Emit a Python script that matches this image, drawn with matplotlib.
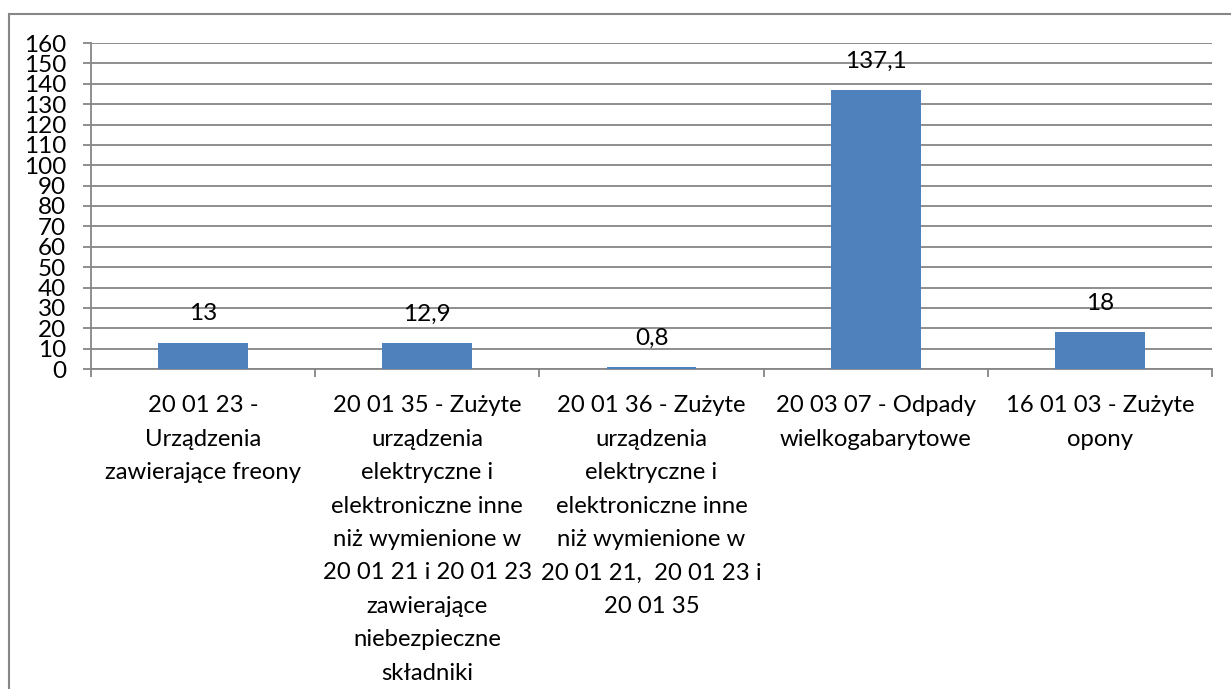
import matplotlib
matplotlib.use("Agg")
import matplotlib.pyplot as plt
from matplotlib.patches import Rectangle

categories = [
    "20 01 23 -\nUrządzenia\nzawierające freony",
    "20 01 35 - Zużyte\nurządzenia\nelektryczne i\nelektroniczne inne\nniż wymienione w\n20 01 21 i 20 01 23\nzawierające\nniebezpieczne\nskładniki",
    "20 01 36 - Zużyte\nurządzenia\nelektryczne i\nelektroniczne inne\nniż wymienione w\n20 01 21,  20 01 23 i\n20 01 35",
    "20 03 07 - Odpady\nwielkogabarytowe",
    "16 01 03 - Zużyte\nopony",
]
values = [13, 12.9, 0.8, 137.1, 18]
value_labels = ["13", "12,9", "0,8", "137,1", "18"]
yticks = list(range(0, 161, 10))

plt.rcParams['font.family'] = ['Lato', 'DejaVu Sans']
W, H = 1231, 689
fig = plt.figure(figsize=(W / 100, H / 100), dpi=100)

FS = 17.2

# outer chart border (only left and top visible in the crop)
fig.add_artist(Rectangle((9 / W, -0.1), 1.2, 1 - 14 / H + 0.1, transform=fig.transFigure,
                         fill=False, edgecolor='#868686', linewidth=1.5))

left, right, top, bottom = 91, 1212, 43, 369
ax = fig.add_axes([left / W, 1 - bottom / H, (right - left) / W, (bottom - top) / H])

grid_color = '#868686'
x = list(range(len(values)))
ax.bar(x, values, width=0.4, color='#4F81BD', zorder=3)
ax.set_xlim(-0.5, len(values) - 0.5)
ax.set_ylim(0, 160)
ax.set_yticks(yticks)
ax.set_yticklabels([str(t) for t in yticks], fontsize=17.5)
ax.yaxis.grid(True, color=grid_color, linewidth=1.3, zorder=0)
ax.set_axisbelow(True)

for s in ['top', 'right']:
    ax.spines[s].set_visible(False)
for s in ['left', 'bottom']:
    ax.spines[s].set_color(grid_color)
    ax.spines[s].set_linewidth(1.3)

ax.tick_params(axis='y', length=6, width=1.3, color=grid_color, pad=12)
ax.set_xticks([i - 0.5 for i in range(len(values) + 1)], minor=False)
ax.set_xticklabels([])
ax.tick_params(axis='x', which='major', length=6, width=1.3, color=grid_color)
ax.set_xticks(x, minor=True)
ax.set_xticklabels(categories, minor=True, fontsize=FS, linespacing=1.73)
ax.tick_params(axis='x', which='minor', length=0, pad=19)

for xi, v, lab in zip(x, values, value_labels):
    ax.annotate(lab, (xi, v), xytext=(0, 13), textcoords='offset points',
                ha='center', va='bottom', fontsize=17.5)

fig.savefig('out.png', dpi=100, facecolor='white')
